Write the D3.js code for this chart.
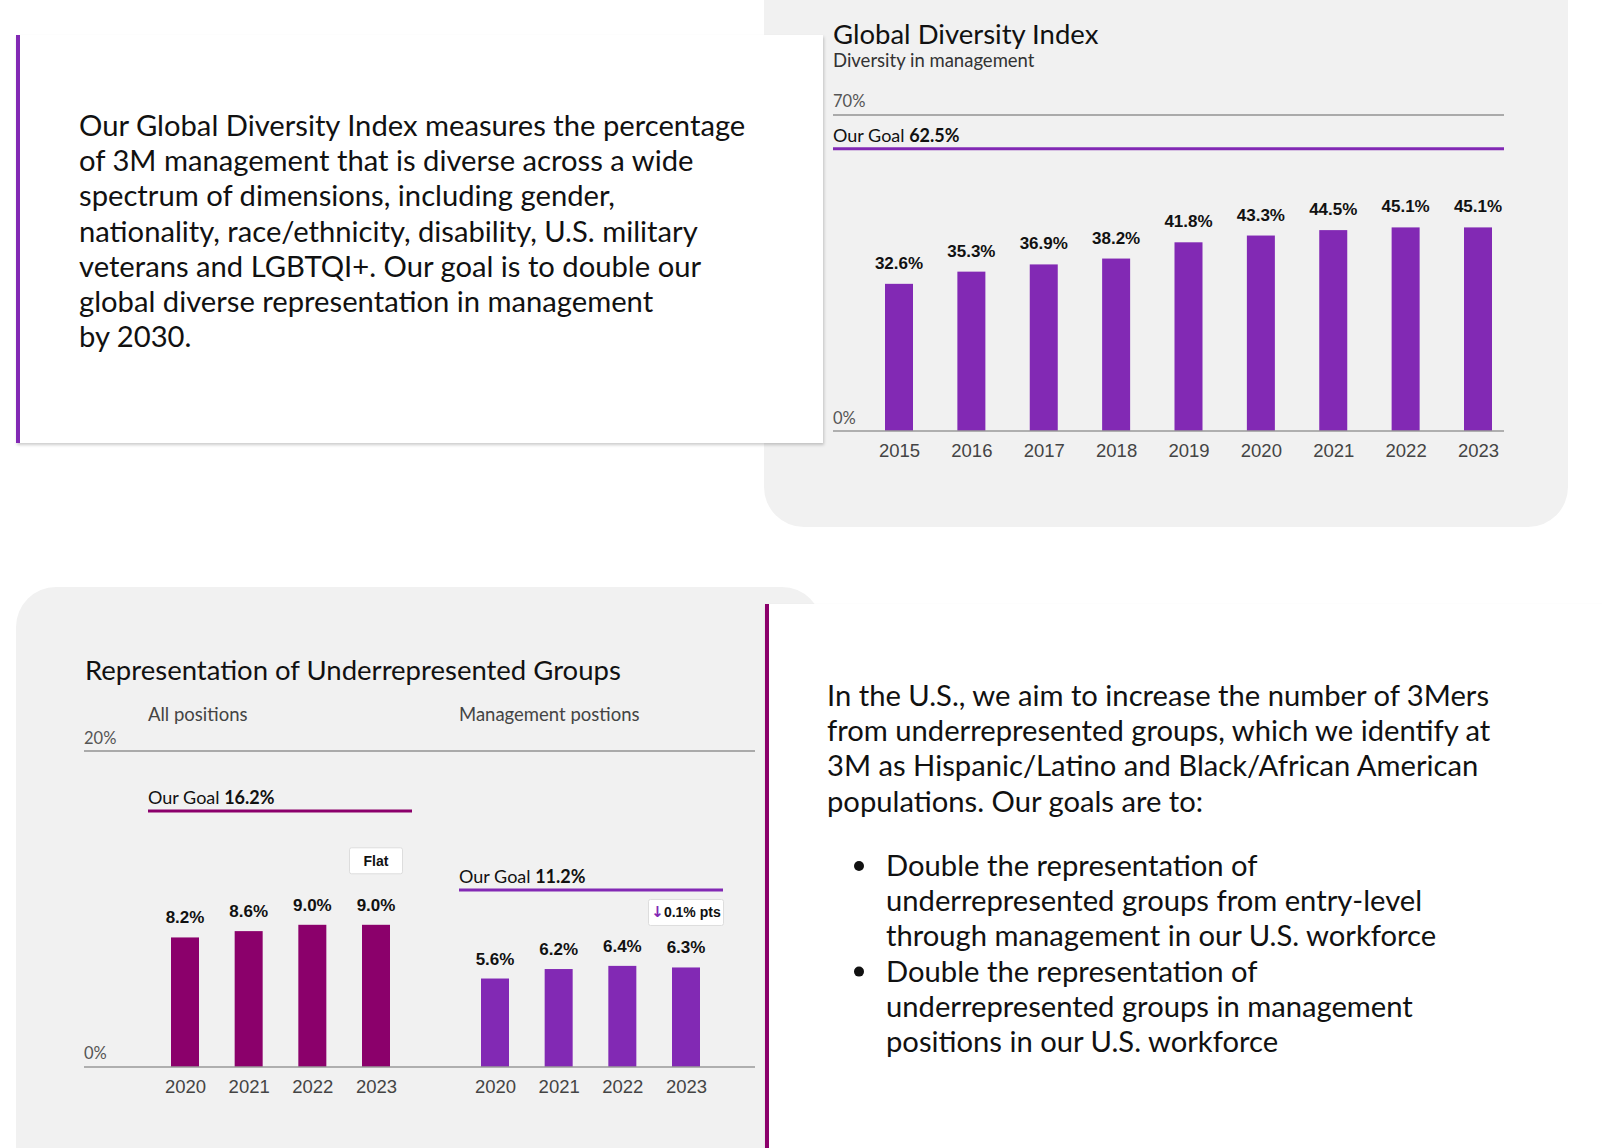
<!DOCTYPE html>
<html>
<head>
<meta charset="utf-8">
<script src="https://cdn.jsdelivr.net/npm/d3@7"></script>
<style>
  html, body { margin: 0; padding: 0; background: #fff; }
  svg { display: block; font-family: Lato, "Noto Sans", sans-serif; }
  .num { font-family: "Liberation Sans", Arial, sans-serif; }
</style>
</head>
<body>
<div id="chart"></div>
<script>
// global diversity index
const gdiYears = ['2015', '2016', '2017', '2018', '2019', '2020', '2021', '2022', '2023'];
const gdiValues = [32.6, 35.3, 36.9, 38.2, 41.8, 43.3, 44.5, 45.1, 45.1];
const gdiGoal = 62.5;
const gdiMax = 70;

// underrepresented groups (U.S.)
const urgYears = ['2020', '2021', '2022', '2023'];
const allPositions = [8.2, 8.6, 9.0, 9.0];
const mgmtPositions = [5.6, 6.2, 6.4, 6.3];
const allGoal = 16.2;
const mgmtGoal = 11.2;
const urgMax = 20;

const introText = [
    'Our Global Diversity Index measures the percentage',
    'of 3M management that is diverse across a wide',
    'spectrum of dimensions, including gender,',
    'nationality, race/ethnicity, disability, U.S. military',
    'veterans and LGBTQI+. Our goal is to double our',
    'global diverse representation in management',
    'by 2030.'
];
const usText = [
    'In the U.S., we aim to increase the number of 3Mers',
    'from underrepresented groups, which we identify at',
    '3M as Hispanic/Latino and Black/African American',
    'populations. Our goals are to:'
];
const bullets = [
    ['Double the representation of', 'underrepresented groups from entry-level', 'through management in our U.S. workforce'],
    ['Double the representation of', 'underrepresented groups in management', 'positions in our U.S. workforce']
];

const width = 1602, height = 1148;
const purple = '#8229b4', magenta = '#8b006b', panelGrey = '#f1f1f1';
const bodySize = 29.2, lineGap = 35.2;

const svg = d3.select('#chart')
    .append('svg')
    .attr('width', width)
    .attr('height', height);

const defs = svg.append('defs');
const shadow = defs.append('filter').attr('id', 'shadow')
    .attr('x', -0.05).attr('y', -0.05).attr('width', 1.1).attr('height', 1.1);
shadow.append('feDropShadow')
    .attr('dx', 1).attr('dy', 2).attr('stdDeviation', 1.5)
    .attr('flood-color', '#000').attr('flood-opacity', 0.2);

// grey panels (rounded)
svg.append('rect')
    .attr('x', 764).attr('y', -60).attr('width', 804).attr('height', 587)
    .attr('rx', 40).attr('fill', panelGrey);
svg.append('rect')
    .attr('x', 16).attr('y', 587).attr('width', 806).attr('height', 620)
    .attr('rx', 40).attr('fill', panelGrey);

// white text cards
svg.append('rect')
    .attr('x', 16).attr('y', 35).attr('width', 807).attr('height', 408)
    .attr('fill', '#fff').attr('filter', 'url(#shadow)');
svg.append('rect')
    .attr('x', 16).attr('y', 35).attr('width', 4).attr('height', 408)
    .attr('fill', purple);

svg.append('rect')
    .attr('x', 765).attr('y', 604).attr('width', 860).attr('height', 600)
    .attr('fill', '#fff').attr('filter', 'url(#shadow)');
svg.append('rect')
    .attr('x', 765).attr('y', 604).attr('width', 4).attr('height', 560)
    .attr('fill', magenta);

// paragraph text
svg.append('g').selectAll('text')
    .data(introText)
    .enter().append('text')
    .attr('x', 79)
    .attr('y', (d, i) => 136 + i * lineGap)
    .attr('font-size', bodySize)
    .attr('fill', '#111')
    .text(d => d);

svg.append('g').selectAll('text')
    .data(usText)
    .enter().append('text')
    .attr('x', 827)
    .attr('y', (d, i) => 706 + i * lineGap)
    .attr('font-size', bodySize)
    .attr('fill', '#111')
    .text(d => d);

bullets.forEach(function(lines, b) {
    const y0 = 876 + b * lineGap * 3;
    svg.append('circle')
        .attr('cx', 859).attr('cy', y0 - 10).attr('r', 5)
        .attr('fill', '#111');
    svg.append('g').selectAll('text')
        .data(lines)
        .enter().append('text')
        .attr('x', 886)
        .attr('y', (d, i) => y0 + i * lineGap)
        .attr('font-size', bodySize)
        .attr('fill', '#111')
        .text(d => d);
});

// ---------- Global Diversity Index chart ----------
const g1 = svg.append('g');
const x1 = d3.scalePoint().domain(gdiYears).range([899, 1478]);
const y1 = d3.scaleLinear().domain([0, gdiMax]).range([431, 115]);

g1.append('text').attr('x', 833).attr('y', 44)
    .attr('font-size', 27.5).attr('fill', '#111')
    .text('Global Diversity Index');
g1.append('text').attr('x', 833).attr('y', 67)
    .attr('font-size', 18.5).attr('fill', '#333')
    .text('Diversity in management');

g1.append('line')
    .attr('x1', 833).attr('x2', 1504)
    .attr('y1', y1(gdiMax)).attr('y2', y1(gdiMax))
    .attr('stroke', '#aaa').attr('stroke-width', 2);
g1.append('text').attr('x', 833).attr('y', y1(gdiMax) - 8)
    .attr('font-size', 16.5).attr('fill', '#555')
    .text(gdiMax + '%');

g1.append('line')
    .attr('x1', 833).attr('x2', 1504)
    .attr('y1', y1(gdiGoal)).attr('y2', y1(gdiGoal))
    .attr('stroke', purple).attr('stroke-width', 3);
const goal1 = g1.append('text').attr('x', 833).attr('y', y1(gdiGoal) - 7)
    .attr('font-size', 18).attr('fill', '#111');
goal1.append('tspan').text('Our Goal ');
goal1.append('tspan').attr('font-weight', 'bold').text(gdiGoal + '%');

g1.selectAll('.bar')
    .data(gdiValues)
    .enter().append('rect')
    .attr('class', 'bar')
    .attr('x', (d, i) => x1(gdiYears[i]) - 14)
    .attr('width', 28)
    .attr('y', d => y1(d))
    .attr('height', d => y1(0) - y1(d))
    .attr('fill', purple);

g1.selectAll('.val')
    .data(gdiValues)
    .enter().append('text')
    .attr('class', 'val num')
    .attr('x', (d, i) => x1(gdiYears[i]))
    .attr('y', d => y1(d) - 15)
    .attr('text-anchor', 'middle')
    .attr('font-size', 17).attr('font-weight', 'bold').attr('fill', '#111')
    .text(d => d.toFixed(1) + '%');

g1.append('line')
    .attr('x1', 833).attr('x2', 1504)
    .attr('y1', y1(0)).attr('y2', y1(0))
    .attr('stroke', '#999').attr('stroke-width', 1.5);
g1.append('text').attr('x', 833).attr('y', y1(0) - 7)
    .attr('font-size', 16.5).attr('fill', '#555')
    .text('0%');

g1.append('g')
    .attr('transform', 'translate(0,' + y1(0) + ')')
    .call(d3.axisBottom(x1).tickSize(0).tickPadding(13))
    .call(g => g.select('.domain').remove())
    .selectAll('text')
    .attr('font-family', '"Liberation Sans", Arial, sans-serif')
    .attr('font-size', 18.5).attr('fill', '#444');

// ---------- Underrepresented groups chart ----------
const g2 = svg.append('g');
const y2 = d3.scaleLinear().domain([0, urgMax]).range([1067, 751]);
const xAll = d3.scalePoint().domain(urgYears).range([185, 376]);
const xMgmt = d3.scalePoint().domain(urgYears).range([495, 686]);

g2.append('text').attr('x', 85).attr('y', 680)
    .attr('font-size', 27.5).attr('fill', '#111')
    .text('Representation of Underrepresented Groups');
g2.append('text').attr('x', 148).attr('y', 721)
    .attr('font-size', 18.5).attr('fill', '#444')
    .text('All positions');
g2.append('text').attr('x', 459).attr('y', 721)
    .attr('font-size', 18.5).attr('fill', '#444')
    .text('Management postions');

g2.append('line')
    .attr('x1', 84).attr('x2', 755)
    .attr('y1', y2(urgMax)).attr('y2', y2(urgMax))
    .attr('stroke', '#aaa').attr('stroke-width', 2);
g2.append('text').attr('x', 84).attr('y', y2(urgMax) - 7)
    .attr('font-size', 16.5).attr('fill', '#555')
    .text(urgMax + '%');

function drawGroup(values, xs, goal, color, goalX1, goalX2) {
    g2.append('line')
        .attr('x1', goalX1).attr('x2', goalX2)
        .attr('y1', y2(goal)).attr('y2', y2(goal))
        .attr('stroke', color).attr('stroke-width', 3);
    const t = g2.append('text').attr('x', goalX1).attr('y', y2(goal) - 7)
        .attr('font-size', 18).attr('fill', '#111');
    t.append('tspan').text('Our Goal ');
    t.append('tspan').attr('font-weight', 'bold').text(goal + '%');

    const grp = g2.append('g');
    grp.selectAll('rect')
        .data(values)
        .enter().append('rect')
        .attr('x', (d, i) => xs(urgYears[i]) - 14)
        .attr('width', 28)
        .attr('y', d => y2(d))
        .attr('height', d => y2(0) - y2(d))
        .attr('fill', color);
    grp.selectAll('text')
        .data(values)
        .enter().append('text')
        .attr('class', 'num')
        .attr('x', (d, i) => xs(urgYears[i]))
        .attr('y', d => y2(d) - 14)
        .attr('text-anchor', 'middle')
        .attr('font-size', 17).attr('font-weight', 'bold').attr('fill', '#111')
        .text(d => d.toFixed(1) + '%');

    g2.append('g')
        .attr('transform', 'translate(0,' + y2(0) + ')')
        .call(d3.axisBottom(xs).tickSize(0).tickPadding(13))
        .call(g => g.select('.domain').remove())
        .selectAll('text')
        .attr('font-family', '"Liberation Sans", Arial, sans-serif')
        .attr('font-size', 18.5).attr('fill', '#444');
}

drawGroup(allPositions, xAll, allGoal, magenta, 148, 412);
drawGroup(mgmtPositions, xMgmt, mgmtGoal, purple, 459, 723);

g2.append('line')
    .attr('x1', 84).attr('x2', 755)
    .attr('y1', y2(0)).attr('y2', y2(0))
    .attr('stroke', '#999').attr('stroke-width', 1.5);
g2.append('text').attr('x', 84).attr('y', y2(0) - 8)
    .attr('font-size', 16.5).attr('fill', '#555')
    .text('0%');

// change badges above the last bars
function badge(cx, cy, w, label, arrow) {
    const b = g2.append('g');
    b.append('rect')
        .attr('x', cx - w / 2).attr('y', cy - 13).attr('width', w).attr('height', 26)
        .attr('rx', 2).attr('fill', '#fff').attr('stroke', '#ddd');
    const t = b.append('text')
        .attr('class', 'num')
        .attr('x', cx).attr('y', cy + 5)
        .attr('text-anchor', 'middle')
        .attr('font-size', 14).attr('font-weight', 'bold').attr('fill', '#111');
    if (arrow) {
        t.append('tspan')
            .attr('font-family', '"DejaVu Sans", sans-serif')
            .attr('font-size', 15)
            .attr('fill', purple).text('\u2193');
    }
    t.append('tspan').text(label);
}
const lastAll = allPositions[allPositions.length - 1];
const lastMgmt = mgmtPositions[mgmtPositions.length - 1];
const mgmtChange = mgmtPositions[3] - mgmtPositions[2];
badge(xAll('2023'), y2(lastAll) - 64, 53, 'Flat', false);
badge(xMgmt('2023'), y2(lastMgmt) - 55, 75, Math.abs(mgmtChange).toFixed(1) + '% pts', true);
</script>
</body>
</html>
